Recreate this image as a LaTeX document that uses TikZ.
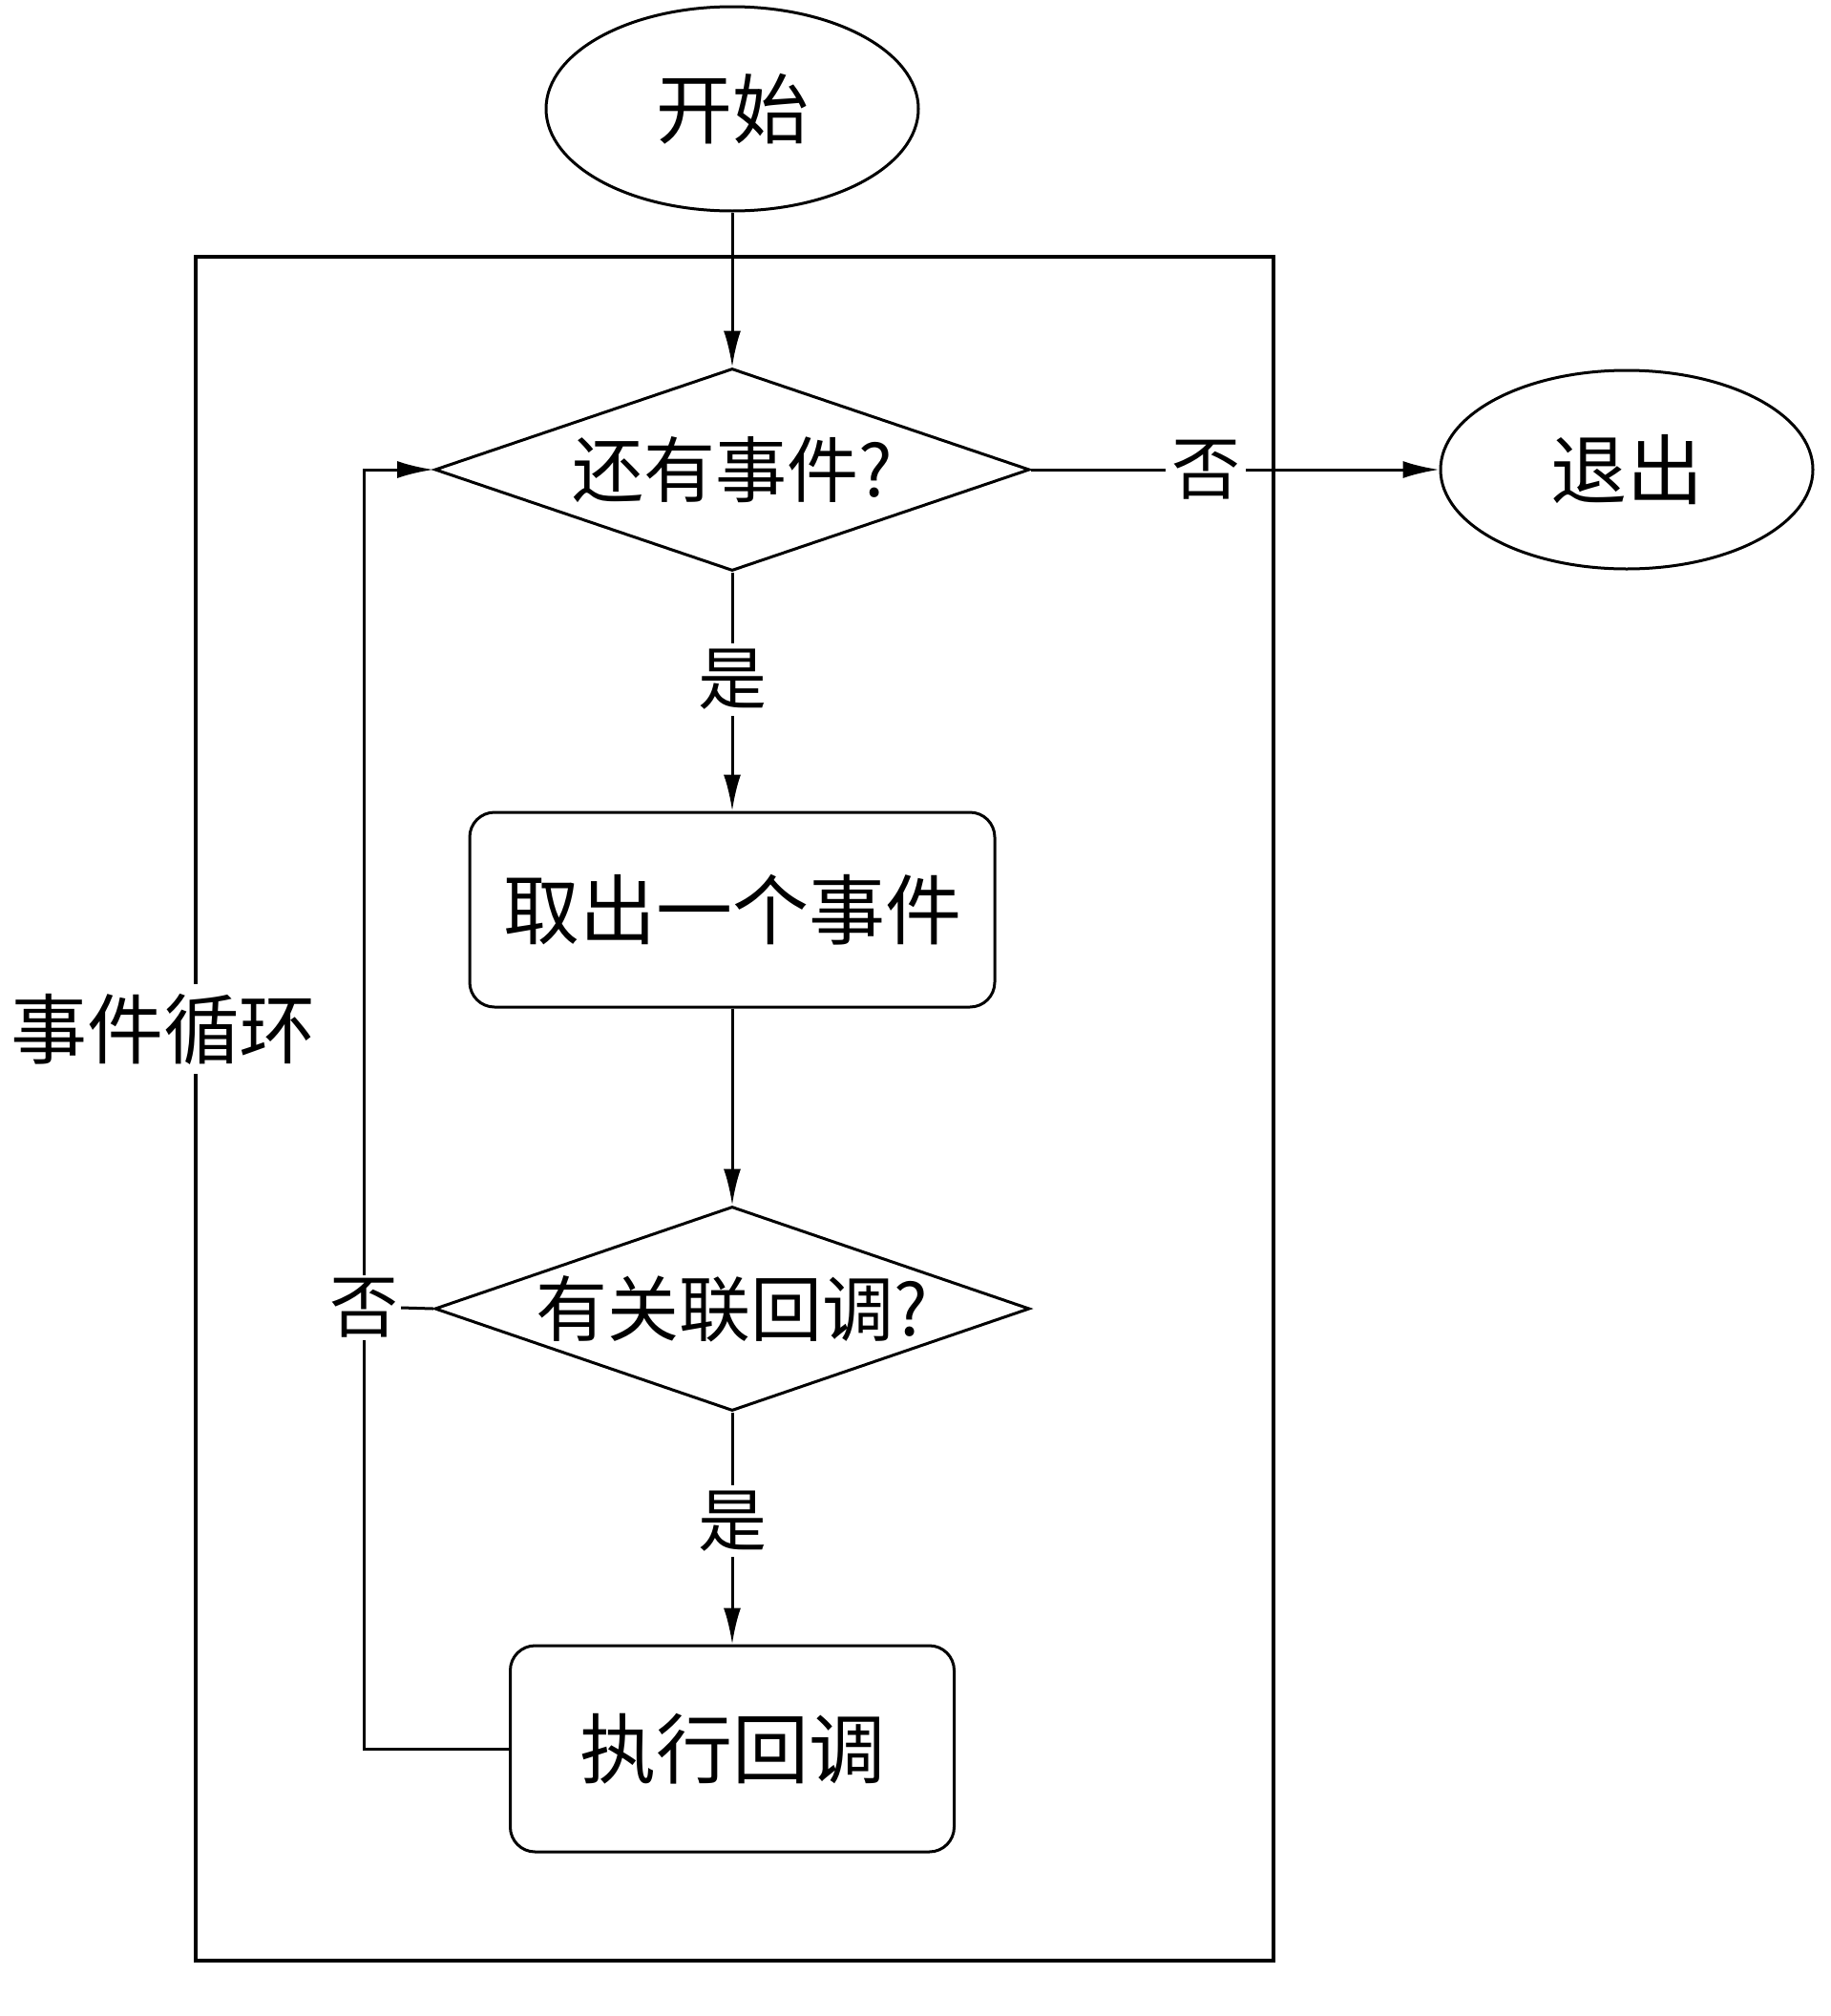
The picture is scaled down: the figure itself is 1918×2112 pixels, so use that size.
\documentclass[tikz,border=0pt]{standalone}
\usepackage{fontspec}
\newfontfamily\cjk{Noto Sans CJK SC}
\usetikzlibrary{shapes.geometric,arrows.meta}
\tikzset{
  base/.style={draw, line width=3pt, font=\cjk\fontsize{80}{84}\selectfont, inner sep=0pt},
  term/.style={base, ellipse, minimum width=390pt, minimum height=214pt},
  decide/.style={base, diamond, shape aspect=3, minimum width=623pt, minimum height=212pt, font=\cjk\fontsize{75}{80}\selectfont},
  proc/.style={base, rectangle, rounded corners=26pt},
  lbl/.style={fill=white, inner sep=6pt, font=\cjk\fontsize{72}{76}\selectfont},
  conn/.style={line width=3pt},
  arr/.style={conn, -{Latex[length=38pt,width=18pt]}},
}
\begin{document}
\begin{tikzpicture}[x=1pt,y=-1pt]
\useasboundingbox (0,0) rectangle (1918,2112);
\draw[line width=3.5pt] (205,269) rectangle (1334,2054);
\node[lbl, inner sep=10pt, font=\cjk\fontsize{80}{84}\selectfont] (loop) at (171,1078) {事件循环};

\node[term] (start) at (767,114) {开始};
\node[decide] (d1) at (767,492) {\makebox[0pt]{还有事件?}};
\node[term, minimum height=208pt] (exit) at (1704,492) {退出};
\node[proc, minimum width=550pt, minimum height=204pt] (box1) at (767,953) {取出一个事件};
\node[decide, minimum height=214pt] (d2) at (767,1371) {\makebox[0pt]{有关联回调?}};
\node[proc, minimum width=465pt, minimum height=216pt] (box2) at (767,1832) {执行回调};

\node[lbl] (no1) at (1263,492) {否};
\node[lbl, inner sep=3pt] (no2) at (381,1370) {否};

\draw[arr] (start) -- (d1);
\draw[conn] (d1.east) -- (no1.west);
\draw[arr] (no1.east) -- (exit.west);
\draw[arr] (d1.south) -- node[lbl, pos=0.45] (yes1) {是} (box1.north);
\draw[arr] (box1.south) -- (d2.north);
\draw[arr] (d2.south) -- node[lbl, pos=0.47] (yes2) {是} (box2.north);
\draw[conn] (d2.west) -- (no2.east);
\draw[conn] (box2.west) -| (no2.south);
\draw[arr] (no2.north) |- (d1.west);
\end{tikzpicture}
\end{document}
